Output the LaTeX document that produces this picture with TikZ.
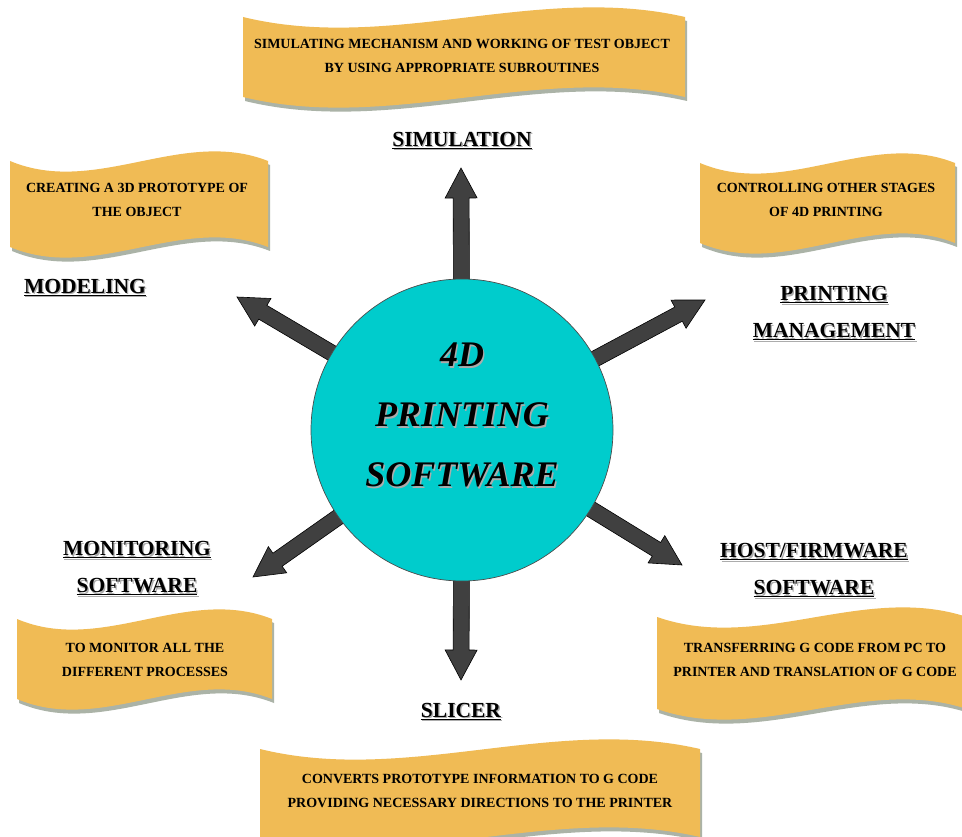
\documentclass[tikz,border=0pt]{standalone}
\usepackage{fontspec}
\setmainfont{Liberation Serif}
\usetikzlibrary{calc}
\definecolor{bannerc}{RGB}{240,187,85}
\definecolor{shadowc}{RGB}{150,160,145}
\definecolor{cyanc}{RGB}{0,204,204}
\definecolor{arrowc}{RGB}{64,64,64}
\tikzset{
  fatarr/.style={fill=arrowc,draw=black,line width=0.6pt,line join=miter},
  btext/.style={align=center,font=\bfseries\fontsize{14}{23.5}\selectfont,inner sep=0pt},
  ltext/.style={align=center,font=\bfseries\fontsize{21.5}{37}\selectfont,inner sep=0pt},
  ctext/.style={align=center,font=\bfseries\itshape\fontsize{36}{60}\selectfont,inner sep=0pt},
}
% text with a grey drop shadow, in one box
\newcommand\shtx[2][1.3pt]{\makebox[0pt][l]{\hspace*{#1}\raisebox{-#1}{\textcolor{gray!65}{#2}}}#2}
% wave path in local coords (y down): width #1, height #2
\newcommand\wavepath[2]{(0,-11) .. controls ({#1/3},{-11-36}) and ({2*#1/3},{-11+34}) .. (#1,-11) -- (#1,{-#2+11}) .. controls ({2*#1/3},{-#2+11+34}) and ({#1/3},{-#2+11-36}) .. (0,{-#2+11}) -- cycle}
\newcommand\wavebanner[4]{%
  \begin{scope}[shift={(#1,-#2)}]
    \fill[shadowc,opacity=0.8] [shift={(2,-4)}] \wavepath{#3}{#4};
    \fill[bannerc] \wavepath{#3}{#4};
  \end{scope}}
\newcommand\fatarrow[2]{%
  \path[fatarr] let \p1=($(#2)-(#1)$), \n1={atan2(\y1,\x1)}, \n2={veclen(\x1,\y1)-30} in
   ($(#1)+(\n1+90:8pt)$) -- ($(#1)+(\n1:\n2)+(\n1+90:8pt)$) -- ($(#1)+(\n1:\n2)+(\n1+90:16pt)$)
   -- (#2) -- ($(#1)+(\n1:\n2)+(\n1-90:16pt)$) -- ($(#1)+(\n1:\n2)+(\n1-90:8pt)$)
   -- ($(#1)+(\n1-90:8pt)$) -- cycle;}
\newcommand\ul[1]{\shtx{\underline{#1}}}
\begin{document}
\begin{tikzpicture}[x=1pt,y=1pt]
\useasboundingbox (0,0) rectangle (962,-837);
\clip (0,0) rectangle (962,-837);
\fill[white] (0,0) rectangle (962,-837);

% banners
\wavebanner{243}{6}{442}{102}
\wavebanner{10}{150}{258}{108}
\wavebanner{700}{152}{255}{102}
\wavebanner{17}{608}{255}{102}
\wavebanner{657}{606}{310}{114}
\wavebanner{260}{738}{440}{110}

% banner texts
\node[btext] (tsim) at (462,-56) {SIMULATING MECHANISM AND WORKING OF TEST OBJECT\\BY USING APPROPRIATE SUBROUTINES};
\node[btext] (tmod) at (137,-200) {CREATING A 3D PROTOTYPE OF\\THE OBJECT};
\node[btext] (tpm) at (826,-200) {CONTROLLING OTHER STAGES\\OF 4D PRINTING};
\node[btext] (tmon) at (145,-660) {TO MONITOR ALL THE\\DIFFERENT PROCESSES};
\node[btext] (thost) at (815,-660) {TRANSFERRING G CODE FROM PC TO\\PRINTER AND TRANSLATION OF G CODE};
\node[btext] (tsl) at (480,-791) {CONVERTS PROTOTYPE INFORMATION TO G CODE\\PROVIDING NECESSARY DIRECTIONS TO THE PRINTER};

% arrows
\coordinate (cc) at (462,-430);
\coordinate (aS) at (461,-168);
\coordinate (aM) at (237,-297);
\coordinate (aP) at (705,-300);
\coordinate (aMon) at (253,-577);
\coordinate (aH) at (682,-565);
\coordinate (aSl) at (461,-680);
\fatarrow{cc}{aS}
\fatarrow{cc}{aM}
\fatarrow{cc}{aP}
\fatarrow{cc}{aMon}
\fatarrow{cc}{aH}
\fatarrow{cc}{aSl}

% centre circle
\node[circle,minimum size=302pt,inner sep=0pt,fill=cyanc,draw=black!70,line width=0.7pt] (C) at (cc) {};
\node[ctext] (Ct) at (462,-416) {\shtx[1.4pt]{4D}\\\shtx[1.4pt]{PRINTING}\\\shtx[1.4pt]{SOFTWARE}};

% labels
\node[ltext] (lsim) at (462,-141) {\ul{SIMULATION}};
\node[ltext] (lmod) at (85,-288) {\ul{MODELING}};
\node[ltext] (lpm) at (834,-314) {\ul{PRINTING}\\\ul{MANAGEMENT}};
\node[ltext] (lmon) at (137,-569) {\ul{MONITORING}\\\ul{SOFTWARE}};
\node[ltext] (lhost) at (814,-571) {\ul{HOST/FIRMWARE}\\\ul{SOFTWARE}};
\node[ltext] (lsl) at (461,-712) {\ul{SLICER}};
\end{tikzpicture}
\end{document}
